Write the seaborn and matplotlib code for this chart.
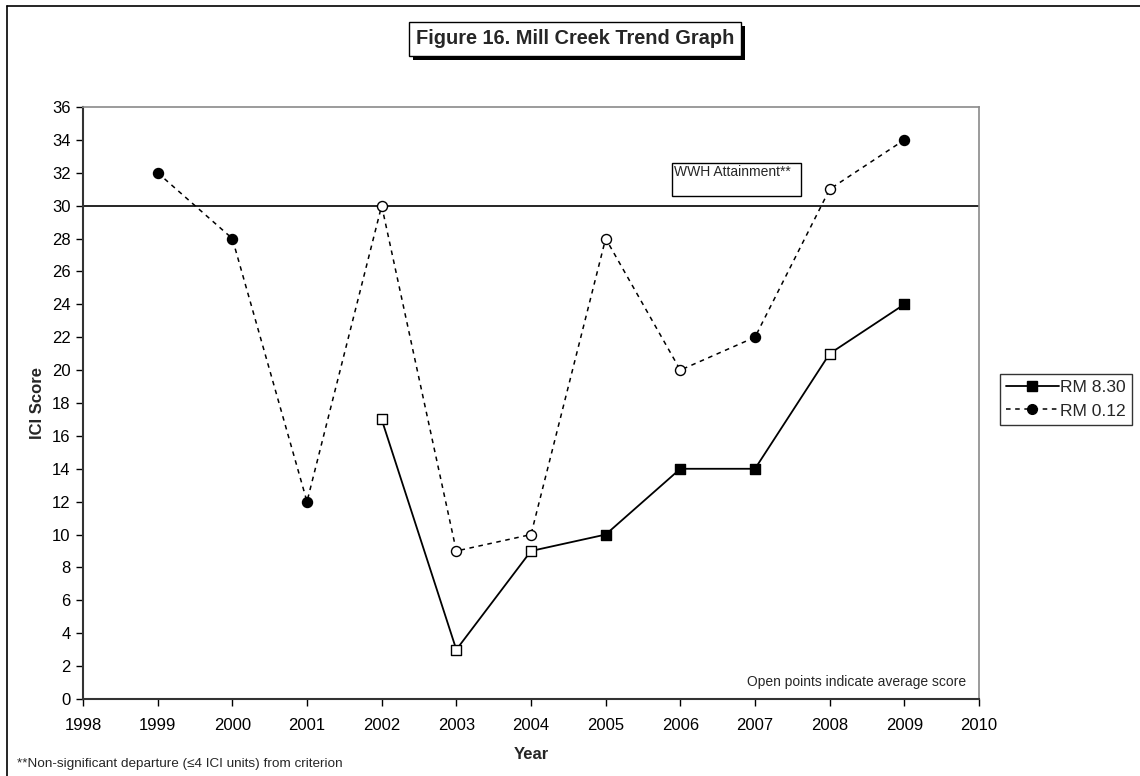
import numpy as np
import pandas as pd
import matplotlib
matplotlib.use("Agg")
import matplotlib.pyplot as plt
from matplotlib.patches import Rectangle
from matplotlib.lines import Line2D
import seaborn as sns

# ---- data ----
years_rm830 = [2002, 2003, 2004, 2005, 2006, 2007, 2008, 2009]
score_rm830 = [17, 3, 9, 10, 14, 14, 21, 24]
open_rm830 = [True, True, True, False, False, False, True, False]

years_rm012 = [1999, 2000, 2001, 2002, 2003, 2004, 2005, 2006, 2007, 2008, 2009]
score_rm012 = [32, 28, 12, 30, 9, 10, 28, 20, 22, 31, 34]
open_rm012 = [False, False, False, True, True, True, True, True, False, True, False]

wwh_criterion = 30
x_ticks = list(range(1998, 2011))
y_ticks = list(range(0, 37, 2))

title_text = "Figure 16. Mill Creek Trend Graph"
series_names = ["RM 8.30", "RM 0.12"]

sns.set_theme(style="white")
plt.rcParams['font.family'] = ['Liberation Sans', 'DejaVu Sans']

W, H = 1140, 776
fig = plt.figure(figsize=(W / 100, H / 100), dpi=100)
fig.patch.set_facecolor("white")

def fx(px):
    return px / W

def fy(py):
    return 1 - py / H

ax = fig.add_axes([fx(83), fy(699), fx(979) - fx(83), fy(107) - fy(699)])
ax.set_facecolor("white")

df830 = pd.DataFrame({"Year": years_rm830, "Score": score_rm830, "open": open_rm830})
df012 = pd.DataFrame({"Year": years_rm012, "Score": score_rm012, "open": open_rm012})

# WWH line
ax.axhline(wwh_criterion, color="black", lw=1.2, zorder=2)

# lines
sns.lineplot(data=df830, x="Year", y="Score", ax=ax, color="black", lw=1.3,
             linestyle="-", zorder=3, legend=False)
sns.lineplot(data=df012, x="Year", y="Score", ax=ax, color="black", lw=1.1,
             linestyle=(0, (3, 3)), zorder=3, legend=False)

# markers
for df, mk, ms in [(df830, "s", 52), (df012, "o", 52)]:
    sub_f = df[~df["open"]]
    sub_o = df[df["open"]]
    sns.scatterplot(data=sub_f, x="Year", y="Score", ax=ax, marker=mk, s=ms,
                    color="black", edgecolor="black", linewidth=1.0, zorder=4, legend=False)
    sns.scatterplot(data=sub_o, x="Year", y="Score", ax=ax, marker=mk, s=ms,
                    color="white", edgecolor="black", linewidth=1.0, zorder=4, legend=False)

ax.set_xlim(1998, 2010)
ax.set_ylim(0, 36)
ax.set_xticks(x_ticks)
ax.set_xticklabels([str(t) for t in x_ticks])
ax.set_yticks(y_ticks)
ax.set_yticklabels([str(t) for t in y_ticks])
ax.tick_params(axis="both", which="major", labelsize=12, colors="black",
               length=5, width=1, direction="out", bottom=True, left=True)
ax.tick_params(axis="x", pad=9)
ax.tick_params(axis="y", pad=4)

for s in ["left", "bottom"]:
    ax.spines[s].set_color("#333333")
    ax.spines[s].set_linewidth(1.5)
for s in ["top", "right"]:
    ax.spines[s].set_color("#8a8a8a")
    ax.spines[s].set_linewidth(1.2)

ax.set_xlabel("Year", fontsize=12, fontweight="bold", labelpad=10)
ax.set_ylabel("ICI Score", fontsize=12, fontweight="bold", labelpad=5)
ax.grid(False)

# WWH attainment box
wx0, wy0, wx1, wy1 = 672, 163, 801, 196
fig.patches.append(Rectangle((fx(wx0), fy(wy1)), fx(wx1) - fx(wx0), fy(wy0) - fy(wy1),
                             transform=fig.transFigure, facecolor="white",
                             edgecolor="black", lw=1.0, zorder=5))
fig.text(fx(wx0 + 2), fy(wy0 + 2), "WWH Attainment**", fontsize=10, ha="left", va="top",
         zorder=6)

# Open points note
ax.text(fx(966), fy(682), "Open points indicate average score", fontsize=10,
        ha="right", va="center", transform=fig.transFigure)

# title box with shadow
tx0, ty0, tx1, ty1 = 409, 22, 741, 56
fig.patches.append(Rectangle((fx(tx0 + 4), fy(ty1 + 4)), fx(tx1) - fx(tx0), fy(ty0) - fy(ty1),
                             transform=fig.transFigure, facecolor="black",
                             edgecolor="black", lw=0, zorder=5))
fig.patches.append(Rectangle((fx(tx0), fy(ty1)), fx(tx1) - fx(tx0), fy(ty0) - fy(ty1),
                             transform=fig.transFigure, facecolor="white",
                             edgecolor="black", lw=1.0, zorder=6))
fig.text(fx((tx0 + tx1) / 2), fy((ty0 + ty1) / 2), title_text, fontsize=14.4,
         fontweight="bold", ha="center", va="center", zorder=7)

# footnote
fig.text(fx(17), fy(764), "**Non-significant departure (\u22644 ICI units) from criterion",
         fontsize=9.7, ha="left", va="center")

# outer frame (partially cropped)
fig.add_artist(Line2D([fx(7), fx(7)], [fy(6), 0], transform=fig.transFigure,
                      color="black", lw=1.2))
fig.add_artist(Line2D([fx(7), 1], [fy(6), fy(6)], transform=fig.transFigure,
                      color="black", lw=1.2))

# legend
handles = [
    Line2D([], [], color="black", lw=1.3, linestyle="-", marker="s",
           markersize=7, markerfacecolor="black", markeredgecolor="black"),
    Line2D([], [], color="black", lw=1.1, linestyle=(0, (3, 3)), marker="o",
           markersize=7, markerfacecolor="black", markeredgecolor="black"),
]
leg = fig.legend(handles, series_names, loc="upper left",
                 bbox_to_anchor=(fx(1000), fy(374)), frameon=True, fancybox=False,
                 fontsize=12.6, handlelength=3.0, handletextpad=0.1, borderpad=0.35,
                 labelspacing=0.45, borderaxespad=0)
leg.get_frame().set_edgecolor("black")
leg.get_frame().set_linewidth(1.0)

fig.savefig("out.png", dpi=100, facecolor="white")
